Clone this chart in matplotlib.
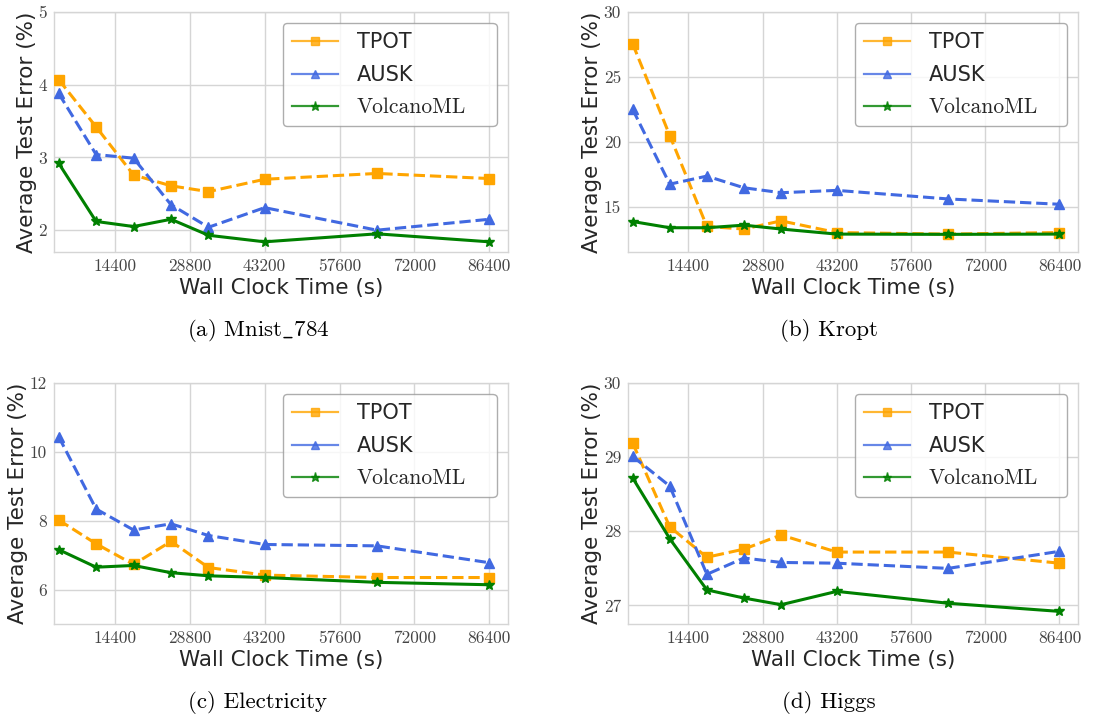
import matplotlib
matplotlib.use("Agg")
import matplotlib.pyplot as plt
from matplotlib.lines import Line2D

# ---- data ----
times = [3600, 10800, 18000, 25200, 32400, 43200, 64800, 86400]
xticks = [14400, 28800, 43200, 57600, 72000, 86400]

mnist_tpot = [4.07, 3.42, 2.76, 2.61, 2.53, 2.70, 2.78, 2.71]
mnist_ausk = [3.88, 3.04, 2.99, 2.35, 2.04, 2.31, 2.00, 2.15]
mnist_volc = [2.92, 2.12, 2.05, 2.15, 1.93, 1.84, 1.95, 1.84]

kropt_tpot = [27.55, 20.48, 13.47, 13.27, 13.90, 13.00, 12.88, 13.00]
kropt_ausk = [22.50, 16.73, 17.35, 16.45, 16.07, 16.25, 15.59, 15.18]
kropt_volc = [13.85, 13.37, 13.37, 13.57, 13.27, 12.88, 12.86, 12.88]

elec_tpot = [8.02, 7.33, 6.73, 7.40, 6.64, 6.42, 6.35, 6.35]
elec_ausk = [10.44, 8.34, 7.73, 7.91, 7.57, 7.31, 7.27, 6.78]
elec_volc = [7.16, 6.65, 6.70, 6.49, 6.40, 6.35, 6.21, 6.14]

higgs_tpot = [29.19, 28.06, 27.65, 27.76, 27.95, 27.72, 27.72, 27.57]
higgs_ausk = [29.01, 28.61, 27.42, 27.64, 27.58, 27.57, 27.50, 27.73]
higgs_volc = [28.72, 27.90, 27.21, 27.10, 27.01, 27.19, 27.03, 26.92]

captions = [r"(a) Mnist$\_$784", "(b) Kropt", "(c) Electricity", "(d) Higgs"]
ylims = [(1.7, 5), (11.5, 30), (5, 12), (26.75, 30)]
yticks = [[2, 3, 4, 5], [15, 20, 25, 30], [6, 8, 10, 12], [27, 28, 29, 30]]
series_names = ["TPOT", "AUSK", "VolcanoML"]

panels = [
    (mnist_tpot, mnist_ausk, mnist_volc),
    (kropt_tpot, kropt_ausk, kropt_volc),
    (elec_tpot, elec_ausk, elec_volc),
    (higgs_tpot, higgs_ausk, higgs_volc),
]

# ---- style ----
plt.rcParams['axes.formatter.use_mathtext'] = True
plt.rcParams['mathtext.fontset'] = 'cm'
colors = ["orange", "royalblue", "green"]
markers = ["s", "^", "*"]
linestyles = ["--", "--", "-"]
msizes = [6.5, 6.5, 7]
text_col = "#262626"
grid_col = "#d5d5d5"

fig = plt.figure(figsize=(11.05, 7.19), dpi=100)
W, H = 1105, 719
boxes = [
    (54, 12, 508, 252),
    (628, 12, 1078, 252),
    (54, 383, 508, 624),
    (628, 383, 1078, 624),
]
cap_pos = [(258, 331), (829, 331), (258, 703), (829, 703)]

for i, (vals, box) in enumerate(zip(panels, boxes)):
    l, t, r, b = box
    ax = fig.add_axes([l / W, 1 - b / H, (r - l) / W, (b - t) / H])
    ax.set_facecolor("white")
    for k in range(3):
        ax.plot(times, vals[k], color=colors[k], marker=markers[k],
                linestyle=linestyles[k], linewidth=2.2, markersize=msizes[k],
                zorder=3)
    ax.set_xlim(2700, 90000)
    ax.set_ylim(*ylims[i])
    ax.set_xticks(xticks)
    ax.set_yticks(yticks[i])
    ax.set_xticklabels([str(v) for v in xticks], fontfamily="cmr10", fontsize=12.5,
                       color="#444444")
    ax.set_yticklabels([str(v) for v in yticks[i]], fontfamily="cmr10", fontsize=12.5,
                       color="#444444")
    ax.tick_params(length=0, pad=5)
    ax.grid(True, color=grid_col, linewidth=1.0, zorder=0)
    ax.set_axisbelow(True)
    for sp in ax.spines.values():
        sp.set_color(grid_col)
        sp.set_linewidth(1.0)
    ax.set_xlabel("Wall Clock Time (s)", fontsize=15.5, color=text_col, labelpad=3)
    ax.set_ylabel("Average Test Error (%)", fontsize=15.5, color=text_col, labelpad=1)

    handles = [Line2D([0], [0], color=colors[k], marker=markers[k], linestyle="-",
                      linewidth=1.6, markersize=[6, 6, 6.5][k], alpha=0.8)
               for k in range(3)]
    leg = ax.legend(handles, series_names, loc="upper left", mode="expand",
                    fontsize=15, frameon=True, fancybox=True, framealpha=0.8,
                    edgecolor="#999999", handlelength=2.2, handletextpad=0.9,
                    borderpad=0.45, labelspacing=0.6, borderaxespad=0,
                    bbox_to_anchor=(0.504, 0.4, 0.471, 0.554))
    for txt in leg.get_texts():
        txt.set_color(text_col)
    leg.get_texts()[2].set_fontfamily("cmr10")
    leg.get_texts()[2].set_fontsize(15.5)

    cx, cy = cap_pos[i]
    fig.text(cx / W, 1 - cy / H, captions[i], ha="center", va="center",
             fontfamily="cmr10", fontsize=16.5, color="black")

fig.savefig("out.png", dpi=100, facecolor="white")
